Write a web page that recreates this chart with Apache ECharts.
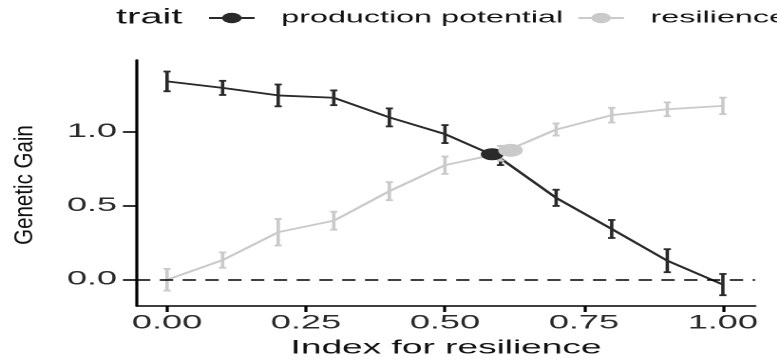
<!DOCTYPE html>
<html>
<head>
<meta charset="utf-8">
<script src="https://cdn.jsdelivr.net/npm/echarts@6/dist/echarts.min.js"></script>
<style>
  html, body { margin: 0; padding: 0; background: #ffffff; overflow: hidden; }
  #chart { position: absolute; left: 0; top: 0; height: 363px; transform-origin: 0 0; }
</style>
</head>
<body>
<div id="chart"></div>
<script>
// Genetic gain of each trait along the resilience index
const indexValues = [0, 0.1, 0.2, 0.3, 0.4, 0.5, 0.6, 0.7, 0.8, 0.9, 1.0];
const productionMean = [1.342, 1.298, 1.247, 1.231, 1.098, 0.985, 0.82, 0.553, 0.342, 0.127, -0.035];
const productionErr = [0.067, 0.048, 0.074, 0.05, 0.061, 0.061, 0.045, 0.055, 0.061, 0.078, 0.072];
const resilienceMean = [-0.002, 0.131, 0.32, 0.398, 0.598, 0.774, 0.855, 1.016, 1.113, 1.153, 1.176];
const resilienceErr = [0.074, 0.052, 0.09, 0.061, 0.061, 0.059, 0.05, 0.041, 0.05, 0.047, 0.056];

// Balance point of each trait (dodged horizontally)
const productionOptimum = [0.585, 0.848];
const resilienceOptimum = [0.618, 0.875];

const traitNames = ['production potential', 'resilience'];
const xTicks = [0, 0.25, 0.5, 0.75, 1.0];
const yTicks = [0, 0.5, 1.0];

// The figure is laid out narrow and widened horizontally
const stretch = 1.9;
const fullWidth = 777;
const innerWidth = fullWidth / stretch;

const el = document.getElementById('chart');
el.style.width = innerWidth + 'px';
el.style.transform = 'scaleX(' + stretch + ')';

const darkColor = '#2a2a2a';
const lightColor = '#cacaca';
const font = 'Liberation Sans';

function pairs(xs, ys) { return xs.map((x, i) => [x, ys[i]]); }

function errorBars(name, means, errs, color) {
  return {
    type: 'custom',
    name: name,
    z: 4,
    silent: true,
    data: indexValues.map((x, i) => [x, means[i] - errs[i], means[i] + errs[i]]),
    encode: { x: 0, y: [1, 2] },
    renderItem: function (params, api) {
      const x = api.value(0);
      const lo = api.coord([x, api.value(1)]);
      const hi = api.coord([x, api.value(2)]);
      const hw = 1.9;
      const st = { stroke: color, lineWidth: 1.8 };
      return {
        type: 'group',
        children: [
          { type: 'line', shape: { x1: lo[0], y1: lo[1], x2: hi[0], y2: hi[1] }, style: st },
          { type: 'line', shape: { x1: lo[0] - hw, y1: lo[1], x2: lo[0] + hw, y2: lo[1] }, style: st },
          { type: 'line', shape: { x1: hi[0] - hw, y1: hi[1], x2: hi[0] + hw, y2: hi[1] }, style: st }
        ]
      };
    }
  };
}

const chart = echarts.init(el, null, { renderer: 'canvas', devicePixelRatio: 2 });

chart.setOption({
  animation: false,
  backgroundColor: '#ffffff',
  textStyle: { fontFamily: font },
  title: {
    text: 'trait',
    left: 61,
    top: 7,
    padding: 0,
    textStyle: { fontFamily: font, fontSize: 21, fontWeight: 'normal', color: '#111111' }
  },
  legend: {
    data: traitNames,
    orient: 'horizontal',
    left: 109,
    top: 9.5,
    width: 600,
    padding: 0,
    itemWidth: 24,
    itemHeight: 13,
    itemGap: 7,
    textStyle: { fontFamily: font, fontSize: 17, color: '#111111', padding: [0, 0, 0, 9] }
  },
  grid: {
    left: 137 / stretch,
    right: innerWidth - 755 / stretch,
    top: 60,
    bottom: 53,
    containLabel: false
  },
  xAxis: {
    type: 'value',
    min: -0.054,
    max: 1.058,
    name: 'Index for resilience',
    nameLocation: 'middle',
    nameGap: 32,
    nameTextStyle: { fontFamily: font, fontSize: 19.5, color: '#111111' },
    axisLine: { show: true, onZero: false, lineStyle: { color: '#000000', width: 1.6 } },
    axisTick: { show: true, length: 6, customValues: xTicks, lineStyle: { color: '#000000', width: 1.6 } },
    axisLabel: {
      customValues: xTicks,
      formatter: v => Number(v).toFixed(2),
      fontFamily: font, fontSize: 19, color: '#2a2a2a', margin: 8
    },
    splitLine: { show: false }
  },
  yAxis: {
    type: 'value',
    min: -0.18,
    max: 1.487,
    axisLine: { show: true, onZero: false, lineStyle: { color: '#000000', width: 1.6 } },
    axisTick: { show: true, length: 7.4, customValues: yTicks, lineStyle: { color: '#000000', width: 1.6 } },
    axisLabel: {
      customValues: yTicks,
      formatter: v => Number(v).toFixed(1),
      fontFamily: font, fontSize: 19, color: '#2a2a2a', margin: 10.5
    },
    splitLine: { show: false }
  },
  graphic: [{
    type: 'text',
    x: 25 / stretch,
    y: 185,
    rotation: Math.PI / 2,
    scaleY: 0.66,
    silent: true,
    style: {
      text: 'Genetic Gain',
      fontFamily: font,
      fontSize: 20.5,
      fill: '#111111',
      align: 'center',
      verticalAlign: 'middle'
    }
  }],
  series: [
    {
      type: 'line',
      name: traitNames[0],
      data: pairs(indexValues, productionMean),
      symbol: 'circle',
      showSymbol: false,
      z: 2,
      lineStyle: { color: darkColor, width: 1.8 },
      itemStyle: { color: darkColor },
      markLine: {
        silent: true,
        symbol: 'none',
        label: { show: false },
        lineStyle: { color: '#000000', type: [7, 5], width: 1.6 },
        data: [{ yAxis: 0 }]
      }
    },
    {
      type: 'line',
      name: traitNames[1],
      data: pairs(indexValues, resilienceMean),
      symbol: 'circle',
      showSymbol: false,
      z: 3,
      lineStyle: { color: lightColor, width: 1.8 },
      itemStyle: { color: lightColor }
    },
    errorBars(traitNames[0], productionMean, productionErr, darkColor),
    errorBars(traitNames[1], resilienceMean, resilienceErr, lightColor),
    {
      type: 'scatter',
      name: traitNames[0],
      data: [productionOptimum],
      symbol: 'circle',
      symbolSize: 12,
      z: 6,
      itemStyle: { color: darkColor, opacity: 1 }
    },
    {
      type: 'scatter',
      name: traitNames[1],
      data: [resilienceOptimum],
      symbol: 'circle',
      symbolSize: 13,
      z: 7,
      itemStyle: { color: lightColor, opacity: 1 }
    }
  ]
});
</script>
</body>
</html>
